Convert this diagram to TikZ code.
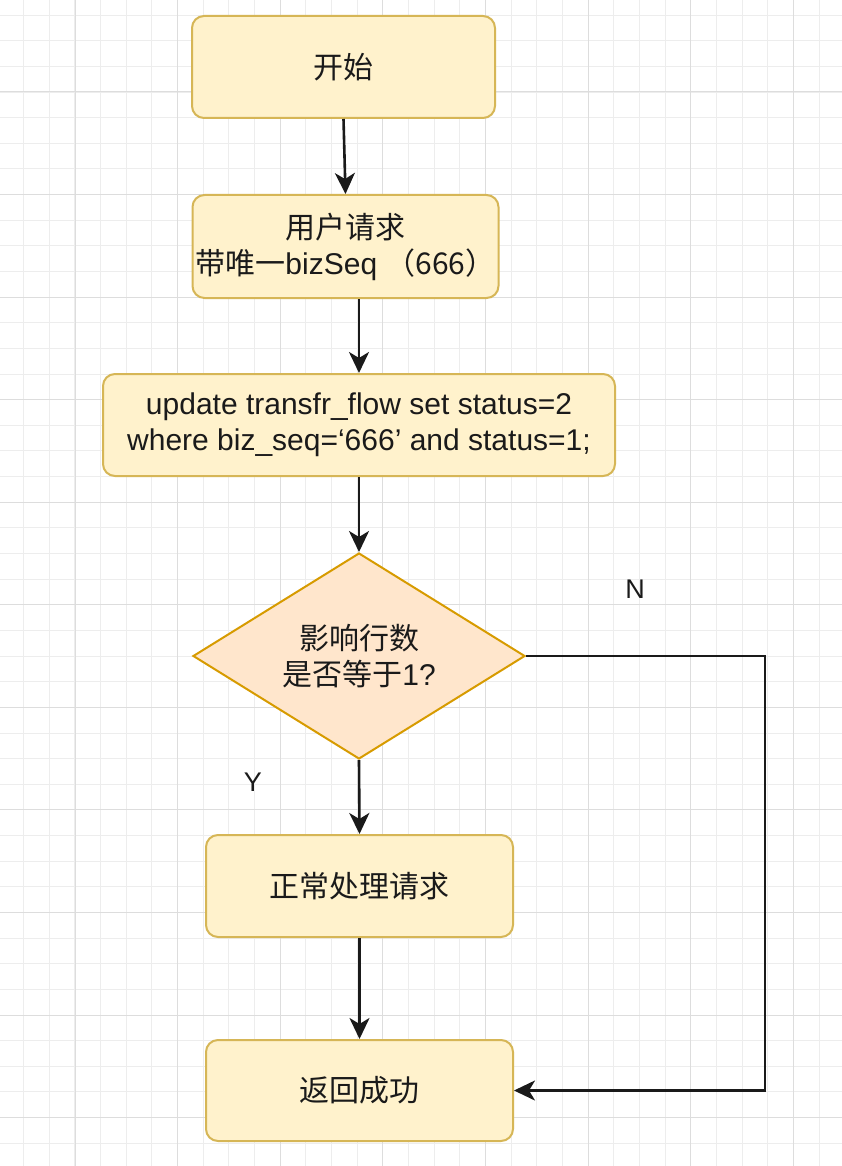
\documentclass[tikz,border=0pt]{standalone}
\usepackage{fontspec}
\setmainfont{Liberation Sans}
\newfontfamily\cjk{Noto Sans CJK SC}
\usetikzlibrary{shapes.geometric,arrows.meta}
\definecolor{boxfill}{HTML}{FFF2CC}
\definecolor{boxdraw}{HTML}{D6B656}
\definecolor{diafill}{HTML}{FFE6CC}
\definecolor{diadraw}{HTML}{D79B00}
\definecolor{gridminor}{HTML}{EDEDED}
\definecolor{gridmajor}{HTML}{DDDDDD}
\definecolor{ink}{HTML}{1A1A1A}
\begin{document}
\begin{tikzpicture}[x=1pt,y=-1pt,
  box/.style={draw=boxdraw, fill=boxfill, line width=2pt, rounded corners=12pt,
    inner sep=0pt, align=center, text=ink, font=\fontsize{30}{36}\selectfont},
  dia/.style={diamond, draw=diadraw, fill=diafill, line width=2pt, inner sep=0pt,
    aspect=1.61, minimum width=332pt, minimum height=206pt, align=center, text=ink,
    font=\fontsize{30}{36}\selectfont},
  arr/.style={draw=ink, line width=2.6pt, -{Stealth[length=21pt,width=20pt,inset=6pt]}},
  lbl/.style={text=ink, font=\fontsize{27}{32}\selectfont, inner sep=0pt}
]
\fill[white] (0,0) rectangle (842,1166);
\useasboundingbox (0,0) rectangle (842,1166);
% grid
\foreach \k in {0,...,31} {
  \pgfmathsetmacro\xx{23.65+25.66*\k}
  \draw[gridminor, line width=1pt] (\xx,0) -- (\xx,1166);
}
\foreach \k in {0,...,44} {
  \pgfmathsetmacro\yy{15.1+25.64*\k}
  \draw[gridminor, line width=1pt] (0,\yy) -- (842,\yy);
}
\foreach \j in {0,...,7} {
  \pgfmathsetmacro\xx{75+102.64*\j}
  \draw[gridmajor, line width=1pt] (\xx,0) -- (\xx,1166);
}
\foreach \j in {0,...,10} {
  \pgfmathsetmacro\yy{92+102.56*\j}
  \draw[gridmajor, line width=1pt] (0,\yy) -- (842,\yy);
}
% nodes
\node[box, minimum width=303pt, minimum height=102pt] (start) at (343.5,67) {{\cjk 开始}};
\node[box, minimum width=306pt, minimum height=103pt] (req) at (345.5,246.5)
  {{\cjk 用户请求}\\{\cjk 带唯一}bizSeq {\cjk （666）}};
\node[box, minimum width=512pt, minimum height=102pt] (upd) at (359,425)
  {update transfr\_flow set status=2\\where biz\_seq=‘666’ and status=1;};
\node[dia] (dec) at (359,656) {{\cjk 影响行数}\\{\cjk 是否等于}1?};
\node[box, minimum width=307pt, minimum height=102pt] (proc) at (359.5,886) {{\cjk 正常处理请求}};
\node[box, minimum width=307pt, minimum height=101pt] (ret) at (359.5,1090.5) {{\cjk 返回成功}};
\node[lbl] (N) at (635,589) {N};
\node[lbl] (Y) at (253,782) {Y};
\coordinate (turn) at (765,656);
% connectors
\draw[arr] (start.south) -- (req.north);
\draw[arr] (req.south -| upd.north) -- (upd.north);
\draw[arr] (upd.south) -- (dec.north);
\draw[arr] (dec.south) -- (proc.north);
\draw[arr] (proc.south) -- (ret.north);
\draw[arr] (dec.east) -- (turn) |- (ret.east);
\end{tikzpicture}
\end{document}
